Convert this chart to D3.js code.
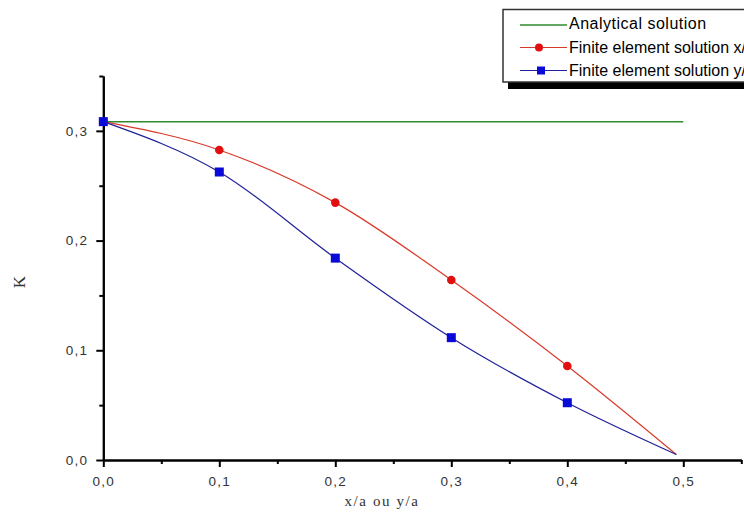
<!DOCTYPE html>
<html>
<head>
<meta charset="utf-8">
<script src="https://cdn.jsdelivr.net/npm/d3@7/dist/d3.min.js"></script>
<style>
  html, body { margin: 0; padding: 0; background: #fff; }
  svg { display: block; }
</style>
</head>
<body>
<svg id="chart" width="744" height="523"></svg>
<script>
// ---- data ----
const xPositions = [0, 0.1, 0.2, 0.3, 0.4, 0.494];
const seriesX = [0.3084, 0.2826, 0.2346, 0.164, 0.0857, 0.005];   // Finite element solution x/a
const seriesY = [0.3084, 0.2625, 0.184, 0.1115, 0.0522, 0.005];   // Finite element solution y/a
const markerCount = 5; // markers shown at 0 .. 0.4
const analyticalX = [0, 0.5];
const analyticalValue = 0.3084;
const xMajorTicks = [0, 0.1, 0.2, 0.3, 0.4, 0.5];
const xMinorTicks = [0.05, 0.15, 0.25, 0.35, 0.45, 0.55];
const yMajorTicks = [0, 0.1, 0.2, 0.3];
const yMinorTicks = [0.05, 0.15, 0.25, 0.35];
const legendLabels = ["Analytical solution", "Finite element solution x/a", "Finite element solution y/a"];
const xTitle = "x/a  ou  y/a";
const yTitle = "K";

// ---- drawing ----
const svg = d3.select("#chart");
const x = d3.scaleLinear().domain([0, 0.55]).range([103.3, 741.3]);
const y = d3.scaleLinear().domain([0, 0.35]).range([460, 76]);
const fmt = v => d3.format(".1f")(v).replace(".", ",");

const red = "#e01010", blue = "#0a0ad8", green = "#2e8b2e";
const redLine = "#d83a2a", blueLine = "#20209a";

// axes
function styleAxis(g) {
  g.selectAll("path.domain").attr("stroke", "#000").attr("stroke-width", 2);
  g.selectAll(".tick line").attr("stroke", "#000").attr("stroke-width", 2);
  g.selectAll(".tick text")
    .attr("font-family", "Liberation Sans, Arial, sans-serif")
    .attr("font-size", 13.5)
    .attr("letter-spacing", "1.3px")
    .attr("fill", "#333");
}
const gx = svg.append("g").attr("transform", `translate(0,${y(0)})`)
  .call(d3.axisBottom(x).tickValues(xMajorTicks).tickFormat(fmt).tickSize(7).tickSizeOuter(0).tickPadding(9));
styleAxis(gx);
const gxm = svg.append("g").attr("transform", `translate(0,${y(0)})`)
  .call(d3.axisBottom(x).tickValues(xMinorTicks).tickFormat("").tickSize(4).tickSizeOuter(0));
styleAxis(gxm);
const gy = svg.append("g").attr("transform", `translate(${x(0)},0)`)
  .call(d3.axisLeft(y).tickValues(yMajorTicks).tickFormat(fmt).tickSize(7).tickSizeOuter(0).tickPadding(8));
styleAxis(gy);
const gym = svg.append("g").attr("transform", `translate(${x(0)},0)`)
  .call(d3.axisLeft(y).tickValues(yMinorTicks).tickFormat("").tickSize(4).tickSizeOuter(0));
styleAxis(gym);

// titles
svg.append("text").attr("x", 382).attr("y", 506).attr("text-anchor", "middle")
  .attr("font-family", "Liberation Serif, Times New Roman, serif").attr("font-size", 15)
  .attr("letter-spacing", "1.6px").attr("fill", "#333").text(xTitle);
svg.append("text").attr("transform", "translate(25,282) rotate(-90)").attr("text-anchor", "middle")
  .attr("font-family", "Liberation Serif, Times New Roman, serif").attr("font-size", 17)
  .attr("fill", "#333").text(yTitle);

// analytical line
svg.append("line")
  .attr("x1", x(analyticalX[0])).attr("x2", x(analyticalX[1]))
  .attr("y1", y(analyticalValue)).attr("y2", y(analyticalValue))
  .attr("stroke", green).attr("stroke-width", 1.5);

const line = d3.line().x(d => x(d[0])).y(d => y(d[1])).curve(d3.curveMonotoneX);
const ptsX = xPositions.map((v, i) => [v, seriesX[i]]);
const ptsY = xPositions.map((v, i) => [v, seriesY[i]]);

svg.append("path").attr("d", line(ptsX)).attr("fill", "none").attr("stroke", redLine).attr("stroke-width", 1.2);
svg.append("path").attr("d", line(ptsY)).attr("fill", "none").attr("stroke", blueLine).attr("stroke-width", 1.2);

svg.append("g").selectAll("circle").data(ptsX.slice(0, markerCount)).join("circle")
  .attr("cx", d => x(d[0])).attr("cy", d => y(d[1])).attr("r", 4.3).attr("fill", red);
svg.append("g").selectAll("rect").data(ptsY.slice(0, markerCount)).join("rect")
  .attr("x", d => x(d[0]) - 4.5).attr("y", d => y(d[1]) - 4.5).attr("width", 9).attr("height", 9).attr("fill", blue);

// legend
const lg = svg.append("g");
lg.append("rect").attr("x", 508).attr("y", 16).attr("width", 260).attr("height", 73).attr("fill", "#000");
lg.append("rect").attr("x", 503).attr("y", 9.5).attr("width", 260).attr("height", 72.5)
  .attr("fill", "#fff").attr("stroke", "#333").attr("stroke-width", 1.5);
const rows = [
  {label: legendLabels[0], color: green, marker: null, cy: 23, ls: "0.5px"},
  {label: legendLabels[1], color: red, lcolor: redLine, marker: "circle", cy: 47.5, ls: "0px"},
  {label: legendLabels[2], color: blue, lcolor: blueLine, marker: "square", cy: 70.5, ls: "0px"}
];
rows.forEach(r => {
  const ly = r.cy + (r.marker ? 0 : 2);
  lg.append("line").attr("x1", 520).attr("x2", 567).attr("y1", ly).attr("y2", ly)
    .attr("stroke", r.marker ? r.lcolor : r.color).attr("stroke-width", r.marker ? 1.2 : 1.5);
  if (r.marker === "circle") lg.append("circle").attr("cx", 539).attr("cy", r.cy).attr("r", 4).attr("fill", r.color);
  if (r.marker === "square") lg.append("rect").attr("x", 537).attr("y", r.cy - 4).attr("width", 8).attr("height", 8).attr("fill", r.color);
  lg.append("text").attr("x", 569).attr("y", r.cy + 5.5)
    .attr("font-family", "Liberation Sans, Arial, sans-serif").attr("font-size", 16)
    .attr("letter-spacing", r.ls)
    .attr("fill", "#000").text(r.label);
});
</script>
</body>
</html>
